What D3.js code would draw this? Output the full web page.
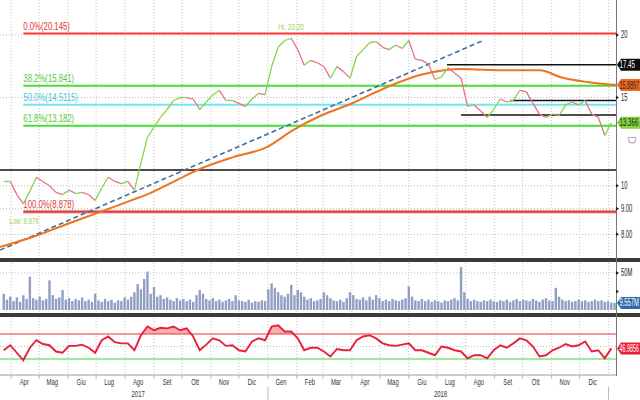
<!DOCTYPE html>
<html><head><meta charset="utf-8">
<script src="https://cdn.jsdelivr.net/npm/d3@7"></script>
<style>
html,body{margin:0;padding:0;background:#fff;}
svg{display:block;font-family:"Liberation Sans",Arial,sans-serif;}
</style></head><body>
<svg id="chart" width="640" height="400"></svg>
<script>
// ---------------- DATA ----------------
const priceStart = "2017-03-24"; // weekly closes
const priceClose = [10.2,10.2,9.6,9.2,9.75,10.4,10.2,10.0,9.7,9.6,9.8,9.65,9.7,9.6,9.35,9.9,10.4,10.2,10.1,10.2,
  9.8,11.1,12.5,13.1,13.7,14.2,14.8,15.0,15.0,14.9,14.2,14.7,15.2,15.5,14.8,14.8,14.6,14.4,14.9,15.3,
  15.2,17.3,18.9,19.5,19.7,18.7,17.4,17.8,17.6,17.3,16.4,17.3,16.9,16.4,18.1,18.7,19.3,19.4,18.9,18.7,
  19.1,18.8,19.5,17.9,17.8,17.5,16.3,16.5,17.2,16.8,16.4,14.4,14.5,14.1,13.7,14.2,14.9,14.7,14.8,15.5,
  15.4,14.6,13.9,13.7,13.9,13.8,14.5,14.7,14.5,14.8,13.9,13.7,12.6,13.366];
const maDates = ["2017-03-20","2017-04-24","2017-05-31","2017-07-05","2017-08-09","2017-08-28","2017-10-02","2017-10-20",
  "2017-11-25","2017-12-31","2018-01-28","2018-02-26","2018-04-02","2018-05-09","2018-06-13","2018-06-27",
  "2018-07-26","2018-09-14","2018-10-20","2018-11-10","2018-12-09","2019-01-09"];
const maValues = [7.55,7.90,8.39,8.86,9.37,9.67,10.41,10.80,11.41,11.95,12.92,13.78,14.63,15.75,16.64,16.87,
  17.11,17.0,17.0,16.49,16.11,15.8897];
const trendDates = ["2017-03-20","2018-08-21"];
const trendValues = [7.44,19.55];
const fibStart = "2017-04-14";
const fibLevels = [20.145,15.841,14.5115,13.182,8.878];
const fibLabels = ["0.0%(20.145)","38.2%(15.841)","50.0%(14.5115)","61.8%(13.182)","100.0%(8.878)"];
const levelStarts = ["2018-07-12","2018-09-18","2018-07-27","2017-03-20"];
const levelValues = [17.45,14.8,13.84,10.75];
const hiLabel = {date:"2018-01-12", value:20.20, text:"Hi: 20.20"};
const lowLabel = {date:"2017-03-30", value:8.878, text:"Low: 8.878"};
const volStart = "2017-03-24"; // semi-weekly volume, millions
const volume = [22,14,18,12,17,11,20,15, 45,16,14, 18,13,15,40, 20,15,17,27,14,16,
  12,15,13,17,12,14,11,22, 13,11,15,12,14,10,13,12,17,14, 18,24,35,28,42,52, 22,31,18,20,15,17,
  14,12,16,13,15,12,14,11, 20,27,22,15,13,16, 12,14,11,13,15,12,20,13, 12,11,14,10,12,11,13,12,
  28,36,30,24,20,18,22,34, 20,27,24,18,14,16,12,13, 15,24,20,16,13,12,14,11, 16,24,20,15,14,17,13,18,
  14,20,16,12,14,12,15,13, 12,14,16,32,18,13,12,15, 12,14,11,13,12,10,13,12, 14,16,13,58,24,15,12,14,
  12,11,13,12,14,12,11,13, 12,14,11,13,15,12,14,13, 12,15,13,11,14,16,13,12, 30,18,14,12,13,11,12,14,
  12,13,11,12,14,12,13,11,12,10,9.557];
const rsiValues = [44,52,40,28,48,60,54,52,42,40,51,51,53,48,40,60,66,57,55,55,
  44,68,82,76,80,79,82,76,79,66,44,53,63,60,51,52,44,42,58,63,
  60,82,84,74,74,63,44,48,48,42,34,46,44,44,60,66,68,63,55,52,
  51,53,55,44,44,40,36,50,48,44,42,31,36,36,31,44,52,48,55,63,
  60,50,34,36,44,48,54,50,52,58,42,44,31,46.9856];
const monthLabels = ["Apr","Mag","Giu","Lug","Ago","Set","Ott","Nov","Dic","Gen","Feb","Mar","Apr","Mag","Giu","Lug","Ago","Set","Ott","Nov","Dic"];
const monthFirst = "2017-04-01";
const yearLabels = ["2017","2018"];
const priceTicks = [20,15,10,9,8];
const priceTickLabels = ["20","15","10","9.00","8.00"];
const volTicks = [50,25];
const volTickLabels = ["50M",""];
const tags = [
  {panel:"price", value:17.45, text:"17.45"},
  {panel:"price", value:15.8897, text:"15.8897"},
  {panel:"price", value:13.366, text:"13.366"},
  {panel:"vol", value:9.557, text:"9.557M"},
  {panel:"rsi", value:46.9856, text:"46.9856"}
];

// ---------------- STYLES ----------------
const fibColors = ["#ff2b2b","#3ddc2e","#6fe3f0","#3ddc2e","#d83a3a"];
const fibTextColors = ["#e83030","#55c83a","#3cc9e0","#55c83a","#d84040"];
const tagFill = ["#0b0b0b","#ef6a1f","#86d23a","#2f6aa8","#e8203a"];
const tagText = ["#fff","#222","#222","#fff","#fff"];

// narrow text: drawn at origin, translated and squeezed horizontally
function ntext(parent, px, py, str, f, maxW){
  const t = parent.append("text").attr("x",0).attr("y",0).text(str);
  const L = t.node().getComputedTextLength();
  let s = f; if (maxW && L*s > maxW) s = maxW / L;
  t.attr("transform", `translate(${px},${py}) scale(${s},1)`);
  return t;
}

// ---------------- SETUP ----------------
const parse = d3.timeParse("%Y-%m-%d");
const svg = d3.select("#chart");
const W = 640, plotR = 616;
const x = d3.scaleTime().domain([parse("2017-03-20"), parse("2019-01-09")]).range([0, plotR]);
const yP = d3.scaleLog().domain([7.175, 23.49]).range([258, 0]);
const yV = d3.scaleLinear().domain([0, 63.5]).range([310, 263]);
const yR = d3.scaleLinear().domain([4.4, 95.6]).range([375, 318]);

const pStart = parse(priceStart);
const price = priceClose.map((v,i)=>({d:d3.timeDay.offset(pStart, 7*i), v}));
const vStart = parse(volStart);
const vol = volume.map((v,i)=>({d:d3.timeHour.offset(vStart, 84*i), v}));
const rsi = rsiValues.map((v,i)=>({d:d3.timeDay.offset(pStart, 7*i), v}));

// month grid
const months = d3.timeMonth.range(parse(monthFirst), parse("2019-01-02"));
const grid = svg.append("g");
const gridSpans = [[0,258],[263,313],[318,375]];
months.forEach(m=>{
  gridSpans.forEach(s=>{
    grid.append("line").attr("x1",x(m)).attr("x2",x(m)).attr("y1",s[0]).attr("y2",s[1])
      .attr("stroke","#c4c4c4").attr("stroke-width",1).attr("stroke-dasharray","1,2");
  });
});
priceTicks.forEach(t=>{
  grid.append("line").attr("x1",0).attr("x2",plotR).attr("y1",yP(t)).attr("y2",yP(t))
    .attr("stroke","#bdbdbd").attr("stroke-dasharray","1,2");
});
grid.append("line").attr("x1",0).attr("x2",plotR).attr("y1",yV(50)).attr("y2",yV(50))
  .attr("stroke","#bdbdbd").attr("stroke-dasharray","1,2");
grid.append("line").attr("x1",0).attr("x2",plotR).attr("y1",yR(50)).attr("y2",yR(50))
  .attr("stroke","#bdbdbd").attr("stroke-dasharray","1,2");

// ---------------- PRICE PANEL ----------------
const gP = svg.append("g");
levelValues.forEach((v,i)=>{
  gP.append("line").attr("x1",x(parse(levelStarts[i]))).attr("x2",plotR)
    .attr("y1",yP(v)).attr("y2",yP(v)).attr("stroke","#111").attr("stroke-width",1.5);
});
fibLevels.forEach((v,i)=>{
  if (i===4) gP.append("line").attr("x1",x(parse(fibStart))).attr("x2",plotR)
    .attr("y1",yP(v)).attr("y2",yP(v)).attr("stroke","#f4b8b8").attr("stroke-width",4);
  gP.append("line").attr("x1",x(parse(fibStart))).attr("x2",plotR)
    .attr("y1",yP(v)).attr("y2",yP(v)).attr("stroke",fibColors[i]).attr("stroke-width",2)
    .attr("opacity",0.95);
  ntext(gP, x(parse(fibStart)), yP(v)-3.5, fibLabels[i], 0.74)
    .attr("fill",fibTextColors[i]).attr("font-size",10.5);
});
gP.append("path").datum(trendDates.map((d,i)=>({d:parse(d),v:trendValues[i]})))
  .attr("d", d3.line().x(d=>x(d.d)).y(d=>yP(d.v)))
  .attr("fill","none").attr("stroke","#3f6fa3").attr("stroke-width",1.6).attr("stroke-dasharray","5,3");
gP.append("path").datum(maDates.map((d,i)=>({d:parse(d),v:maValues[i]})))
  .attr("d", d3.line().curve(d3.curveMonotoneX).x(d=>x(d.d)).y(d=>yP(d.v)))
  .attr("fill","none").attr("stroke","#f0731e").attr("stroke-width",2);
for (let i=1;i<price.length;i++){
  const a=price[i-1], b=price[i];
  gP.append("line").attr("x1",x(a.d)).attr("x2",x(b.d)).attr("y1",yP(a.v)).attr("y2",yP(b.v))
    .attr("stroke", b.v>=a.v ? "#86d44e" : "#e8708a").attr("stroke-width",1.3);
}
ntext(gP, x(parse(hiLabel.date)), yP(hiLabel.value)-3, hiLabel.text, 0.68).attr("fill","#9bd35e").attr("font-size",9.5);
ntext(gP, x(parse(lowLabel.date)), yP(lowLabel.value)+12, lowLabel.text, 0.63).attr("fill","#9bd35e").attr("font-size",9.5);

// ---------------- VOLUME ----------------
const gV = svg.append("g");
gV.selectAll("rect").data(vol).join("rect")
  .attr("x",d=>x(d.d)-1.2).attr("width",2.4)
  .attr("y",d=>yV(d.v)).attr("height",d=>yV(0)-yV(d.v))
  .attr("fill","#909fc2");

// ---------------- RSI ----------------
const gR = svg.append("g");
gR.append("clipPath").attr("id","above70").append("rect")
  .attr("x",0).attr("y",318).attr("width",plotR).attr("height",yR(70)-318);
gR.append("path").datum(rsi)
  .attr("d", d3.area().x(d=>x(d.d)).y0(yR(70)).y1(d=>yR(d.v)))
  .attr("fill","#f6b0b0").attr("clip-path","url(#above70)");
gR.append("line").attr("x1",0).attr("x2",plotR).attr("y1",yR(70)).attr("y2",yR(70)).attr("stroke","#e8303a").attr("stroke-width",1.2);
gR.append("line").attr("x1",0).attr("x2",plotR).attr("y1",yR(30)).attr("y2",yR(30)).attr("stroke","#3ddc2e").attr("stroke-width",1.2);
gR.append("path").datum(rsi)
  .attr("d", d3.line().x(d=>x(d.d)).y(d=>yR(d.v)))
  .attr("fill","none").attr("stroke","#e8203a").attr("stroke-width",1.9);

// ---------------- FRAME ----------------
svg.append("rect").attr("x",0).attr("y",258).attr("width",W).attr("height",4).attr("fill","#3a3a3a");
svg.append("rect").attr("x",0).attr("y",313).attr("width",W).attr("height",4).attr("fill","#3a3a3a");
svg.append("line").attr("x1",plotR+0.5).attr("x2",plotR+0.5).attr("y1",0).attr("y2",376).attr("stroke","#777");
svg.append("line").attr("x1",0).attr("x2",plotR).attr("y1",375).attr("y2",375).attr("stroke","#999");

const axT = svg.append("g").attr("font-size",10).attr("fill","#222");
priceTicks.forEach((t,i)=>{
  axT.append("path").attr("d",`M${plotR},${yP(t)-2}L${plotR+3},${yP(t)}L${plotR},${yP(t)+2}Z`).attr("fill","#222");
  ntext(axT, plotR+5, yP(t)+3.5, priceTickLabels[i], 0.58);
});
volTicks.forEach((t,i)=>{
  axT.append("path").attr("d",`M${plotR},${yV(t)-2}L${plotR+3},${yV(t)}L${plotR},${yV(t)+2}Z`).attr("fill","#222");
  if (volTickLabels[i]) ntext(axT, plotR+5, yV(t)+3.5, volTickLabels[i], 0.58);
});
const gTag = svg.append("g").attr("font-size",10);
tags.forEach((t,i)=>{
  const s = t.panel==="price"?yP:(t.panel==="vol"?yV:yR);
  const cy = s(t.value);
  gTag.append("path").attr("d",`M${plotR+1},${cy}L${plotR+5},${cy-6}L${W},${cy-6}L${W},${cy+6}L${plotR+5},${cy+6}Z`)
    .attr("fill",tagFill[i]);
  ntext(gTag, plotR+3.5, cy+3.5, t.text, 0.62, 19.5).attr("fill",tagText[i]);
});
ntext(svg, 628, 136, "D", 1).attr("font-size",11).attr("fill","#aaa")
  .attr("transform","translate(628,136) rotate(90)");

const gX = svg.append("g").attr("font-size",9.5).attr("fill","#333").attr("text-anchor","middle");
months.slice(0, monthLabels.length).forEach((m,i)=>{
  ntext(gX, x(d3.timeDay.offset(m,14)), 385, monthLabels[i], 0.62);
  gX.append("line").attr("x1",x(m)).attr("x2",x(m)).attr("y1",375).attr("y2",379).attr("stroke","#bbb");
});
yearLabels.forEach((yl,i)=>{
  const yr = +yl;
  const mid = x(new Date(yr, i===0?7:6, i===0?15:5));
  ntext(gX, mid, 397, yl, 0.62);
});
[parse("2018-01-01"), parse("2019-01-01")].forEach(d=>{
  svg.append("line").attr("x1",x(d)).attr("x2",x(d)).attr("y1",387).attr("y2",400).attr("stroke","#bbb");
});
</script>
</body></html>
